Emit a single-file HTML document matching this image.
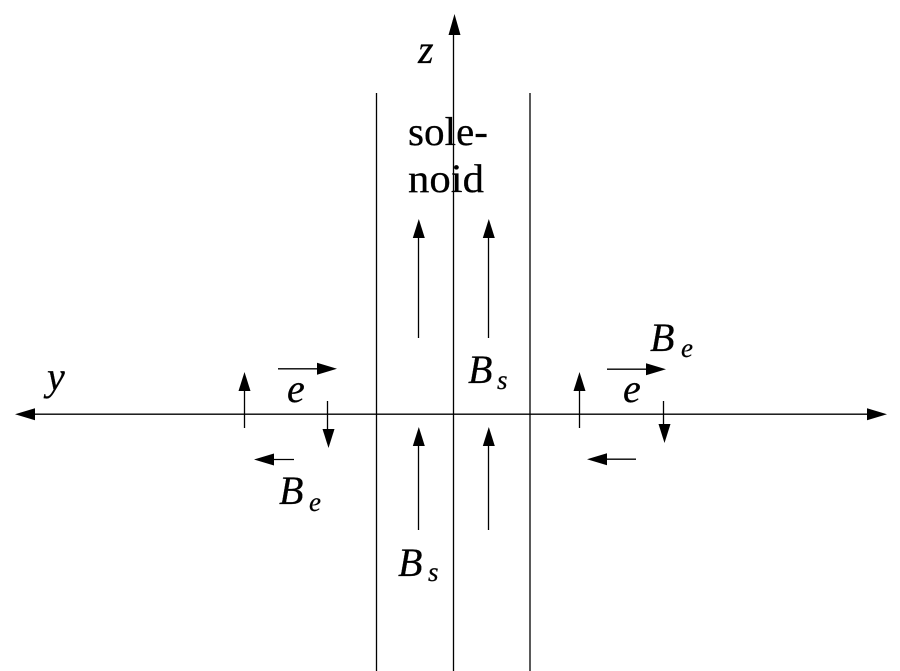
<!DOCTYPE html>
<html>
<head>
<meta charset="utf-8">
<style>
html,body{margin:0;padding:0;background:#fff;width:900px;height:671px;overflow:hidden}
svg{display:block}
text{font-family:"Liberation Serif",serif;fill:#000;stroke:#000;stroke-width:.25}
.i{font-style:italic}
</style>
</head>
<body>
<svg width="900" height="671" viewBox="0 0 900 671" xmlns="http://www.w3.org/2000/svg">
<g stroke="#000" stroke-width="1.3" fill="none">
<line x1="376.500" y1="93" x2="376.500" y2="671"/>
<line x1="530" y1="93" x2="530" y2="671"/>
<line x1="453.500" y1="671" x2="453.500" y2="20"/>
<line x1="20" y1="414.200" x2="882" y2="414.200"/>
<line x1="418.500" y1="338" x2="418.500" y2="230"/>
<line x1="488.500" y1="338" x2="488.500" y2="230"/>
<line x1="418.500" y1="530" x2="418.500" y2="438"/>
<line x1="488.500" y1="530" x2="488.500" y2="438"/>
<line x1="244.500" y1="428" x2="244.500" y2="383"/>
<line x1="579.500" y1="428" x2="579.500" y2="383"/>
<line x1="327.500" y1="401" x2="327.500" y2="437"/>
<line x1="663.500" y1="401" x2="663.500" y2="432"/>
<line x1="278" y1="368.800" x2="326" y2="368.800"/>
<line x1="607" y1="369.200" x2="655" y2="369.200"/>
<line x1="294" y1="459.500" x2="265" y2="459.500"/>
<line x1="636" y1="459.200" x2="598" y2="459.200"/>
</g>
<g fill="#000">
<path d="M454.500 14 L460.500 35 L448.500 35 Z"/>
<path d="M887 414.200 L867 408.200 L867 420.200 Z"/>
<path d="M15 414.200 L35 408.200 L35 420.200 Z"/>
<path d="M418.800 219 L424.800 238 L412.800 238 Z"/>
<path d="M488.800 219 L494.800 238 L482.800 238 Z"/>
<path d="M418.800 427 L424.800 446 L412.800 446 Z"/>
<path d="M488.800 427 L494.800 446 L482.800 446 Z"/>
<path d="M244.500 372 L250.500 391 L238.500 391 Z"/>
<path d="M579.500 372 L585.500 391 L573.500 391 Z"/>
<path d="M328.500 448 L322.500 429 L334.500 429 Z"/>
<path d="M664.500 443 L658.500 424 L670.500 424 Z"/>
<path d="M337 368.800 L317 362.800 L317 374.800 Z"/>
<path d="M666 369.200 L646 363.200 L646 375.200 Z"/>
<path d="M254 459.500 L274 453.500 L274 465.500 Z"/>
<path d="M587 459.200 L607 453.200 L607 465.200 Z"/>
</g>
<text x="418" y="63" font-size="40" class="i">z</text>
<text x="47" y="390" font-size="40" class="i">y</text>
<text x="408" y="145" font-size="40" textLength="80" lengthAdjust="spacingAndGlyphs">sole-</text>
<text x="408" y="192" font-size="40" textLength="76" lengthAdjust="spacingAndGlyphs">noid</text>
<text x="468" y="383" font-size="40" class="i">B</text>
<text x="497" y="389" font-size="27" class="i">s</text>
<text x="398" y="576" font-size="40" class="i">B</text>
<text x="428" y="581" font-size="27" class="i">s</text>
<text x="279" y="504" font-size="40" class="i">B</text>
<text x="309" y="511" font-size="27" class="i">e</text>
<text x="650" y="351" font-size="40" class="i">B</text>
<text x="681" y="357" font-size="27" class="i">e</text>
<text x="287" y="402" font-size="40" class="i">e</text>
<text x="623" y="402" font-size="40" class="i">e</text>
</svg>
</body>
</html>
